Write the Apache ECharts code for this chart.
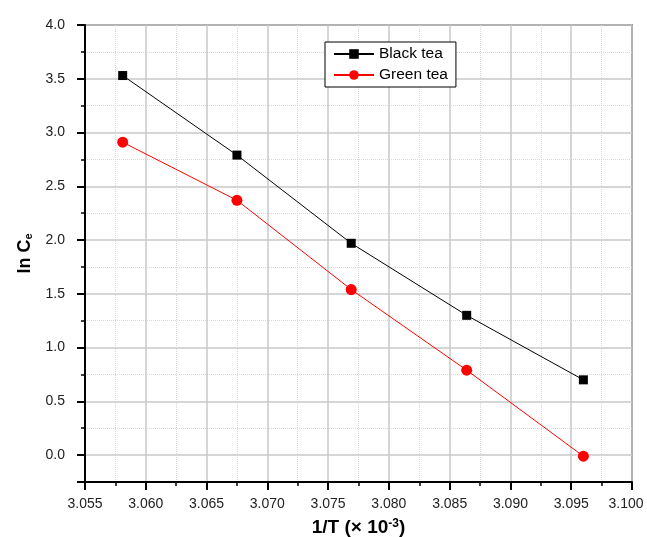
<!DOCTYPE html>
<html>
<head>
<meta charset="utf-8">
<script src="https://cdn.jsdelivr.net/npm/echarts@6/dist/echarts.min.js"></script>
<style>
  html, body { margin: 0; padding: 0; background: #fff; }
  #main { width: 647px; height: 537px; }
</style>
</head>
<body>
<div id="main"></div>
<script>
// 1/T values (x 10^-3)
const invT = [3.0581, 3.0675, 3.0769, 3.0864, 3.0960];
const blackTea = [3.53, 2.79, 1.97, 1.30, 0.70];
const greenTea = [2.91, 2.37, 1.54, 0.79, -0.01];

const font = "Liberation Sans, Arial, sans-serif";

let chartDom = document.getElementById("main");
let myChart = echarts.init(chartDom);

const pairs = (ys) => invT.map((x, i) => [x, ys[i]]);

let option = {
  animation: false,
  textStyle: { fontFamily: font },
  grid: {
    left: 85,
    right: 15,
    top: 25,
    bottom: 55,
    show: true,
    borderColor: "#444",
    borderWidth: 1.5,
    containLabel: false,
    outerBoundsMode: "none",
  },
  legend: {
    orient: "vertical",
    left: 325,
    top: 42,
    padding: [4, 8, 4, 8],
    itemGap: 5,
    itemWidth: 40,
    itemHeight: 12,
    borderColor: "#000",
    borderWidth: 1,
    backgroundColor: "#fff",
    textStyle: { fontFamily: font, fontSize: 15.5, color: "#000" },
    data: ["Black tea", "Green tea"],
  },
  xAxis: {
    type: "value",
    min: 3.055,
    max: 3.1,
    interval: 0.005,
    name: "1/T (× 10{sup|-3})",
    nameLocation: "middle",
    nameGap: 36,
    nameTextStyle: {
      fontFamily: font,
      fontSize: 19,
      fontWeight: "bold",
      color: "#000",
      rich: {
        sup: { fontSize: 12, fontWeight: "bold", verticalAlign: "top", padding: [0, 0, 8, 0] },
      },
    },
    axisLine: { onZero: false, lineStyle: { color: "#000", width: 2 } },
    axisTick: { inside: false, length: 8, lineStyle: { color: "#000", width: 2 } },
    minorTick: { show: true, splitNumber: 2, length: 4, lineStyle: { color: "#000", width: 1.5 } },
    axisLabel: {
      margin: 15,
      fontSize: 14,
      color: "#222",
      formatter: (v) => (v > 3.0999 ? "{last|" + v.toFixed(3) + "}" : v.toFixed(3)),
      rich: {
        last: { fontSize: 14, color: "#222", padding: [0, 12, 0, 0] },
      },
    },
    splitLine: { show: true, lineStyle: { color: "#c8c8c8", width: 1.5 } },
    minorSplitLine: { show: true, lineStyle: { color: "#d8d8d8", width: 1, type: "dotted" } },
  },
  yAxis: {
    type: "value",
    min: -0.25,
    max: 4,
    splitNumber: 8,
    name: "ln C{sub|e}",
    nameLocation: "middle",
    nameGap: 50,
    nameTextStyle: {
      fontFamily: font,
      fontSize: 18,
      fontWeight: "bold",
      color: "#000",
      rich: {
        sub: { fontSize: 11, fontWeight: "bold", verticalAlign: "bottom", padding: [8, 0, 0, 0] },
      },
    },
    axisLine: { onZero: false, lineStyle: { color: "#000", width: 2 } },
    axisTick: { inside: false, length: 8, lineStyle: { color: "#000", width: 2 } },
    minorTick: { show: true, splitNumber: 2, length: 4, lineStyle: { color: "#000", width: 1.5 } },
    axisLabel: {
      margin: 20,
      fontSize: 14,
      color: "#222",
      showMinLabel: false,
      formatter: (v) => (v < 0 ? "" : v.toFixed(1)),
    },
    splitLine: { show: true, lineStyle: { color: "#c8c8c8", width: 1.5 } },
    minorSplitLine: { show: true, lineStyle: { color: "#d8d8d8", width: 1, type: "dotted" } },
  },
  series: [
    {
      name: "Black tea",
      type: "line",
      data: pairs(blackTea),
      symbol: "rect",
      symbolSize: 9,
      itemStyle: { color: "#000" },
      lineStyle: { color: "#000", width: 1 },
    },
    {
      name: "Green tea",
      type: "line",
      data: pairs(greenTea),
      symbol: "circle",
      symbolSize: 11,
      itemStyle: { color: "#ff0000" },
      lineStyle: { color: "#ff0000", width: 1 },
    },
  ],
};
myChart.setOption(option);
</script>
</body>
</html>
